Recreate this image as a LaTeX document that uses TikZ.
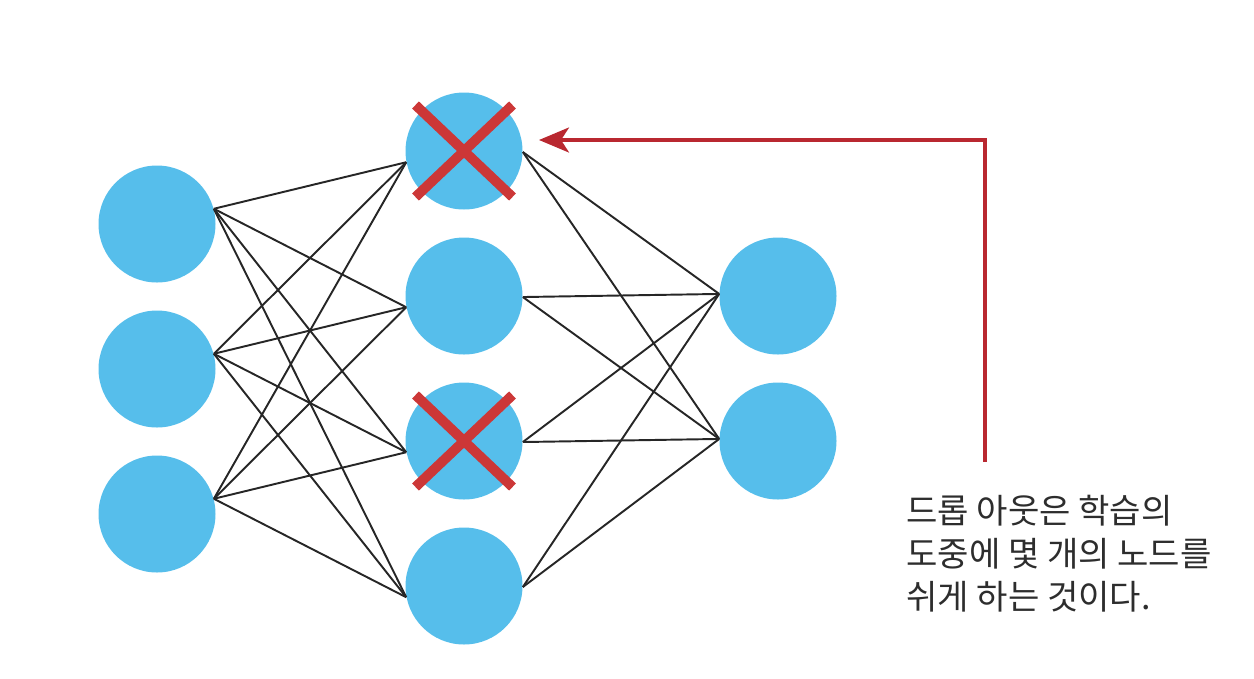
\documentclass[tikz,border=0pt]{standalone}
\usepackage{fontspec}
\newfontfamily\krfont{Noto Sans CJK KR}
\usepackage{tikz}
\usetikzlibrary{arrows.meta, positioning}

\definecolor{nodeblue}{RGB}{86,190,235}
\definecolor{crossred}{RGB}{204,55,55}
\definecolor{arrowred}{RGB}{185,40,48}
\definecolor{textgray}{RGB}{45,45,45}

\begin{document}
\begin{tikzpicture}[
				neuron/.style={circle, fill=nodeblue, minimum size=2.34cm, inner sep=0pt},
				koneksi/.style={draw=black!85, line width=1.1pt},
				silang/.style={draw=crossred, line width=5.6pt},
				panah/.style={-{Stealth[length=0.6cm, width=0.5cm, inset=0.16cm]}, draw=arrowred, line width=2pt},
				keterangan/.style={align=left, font=\krfont\fontsize{19.4}{24.5}\selectfont, text=textgray, inner sep=0pt}
			]
			\useasboundingbox (0,0) rectangle (25.08,-13.56);

			% Lapisan input
			\node[neuron] (in1) at (3.14,-4.48) {};
			\node[neuron] (in2) at (3.14,-7.38) {};
			\node[neuron] (in3) at (3.14,-10.28) {};

			% Lapisan tersembunyi
			\node[neuron] (hid1) at (9.28,-3.02) {};
			\node[neuron] (hid2) at (9.28,-5.92) {};
			\node[neuron] (hid3) at (9.28,-8.82) {};
			\node[neuron] (hid4) at (9.28,-11.72) {};

			% Lapisan output
			\node[neuron] (out1) at (15.56,-5.92) {};
			\node[neuron] (out2) at (15.56,-8.82) {};

			% Garis koneksi
			\foreach \i in {1,2,3}
				\foreach \j in {1,2,3,4}
					\draw[koneksi] (in\i.15) -- (hid\j.191);
			\foreach \j in {1,2,3,4}
				\foreach \k in {1,2}
					\draw[koneksi] (hid\j.359) -- (out\k.178);

			% Tanda silang (dropout)
			\foreach \j in {1,3} {
				\draw[silang] ([shift={(-0.97,0.92)}]hid\j.center) -- ([shift={(0.97,-0.92)}]hid\j.center);
				\draw[silang] ([shift={(0.97,0.92)}]hid\j.center) -- ([shift={(-0.97,-0.92)}]hid\j.center);
			}

			% Keterangan
			\node[keterangan, anchor=north west] (desc) at (18.12,-9.9) {드롭 아웃은 학습의\\도중에 몇 개의 노드를\\쉬게 하는 것이다.};
			\coordinate (awal) at (19.7,-9.24);
			\coordinate (ujung) at (10.78,-2.8);
			\draw[panah] (awal) |- (ujung);
		\end{tikzpicture}
\end{document}
